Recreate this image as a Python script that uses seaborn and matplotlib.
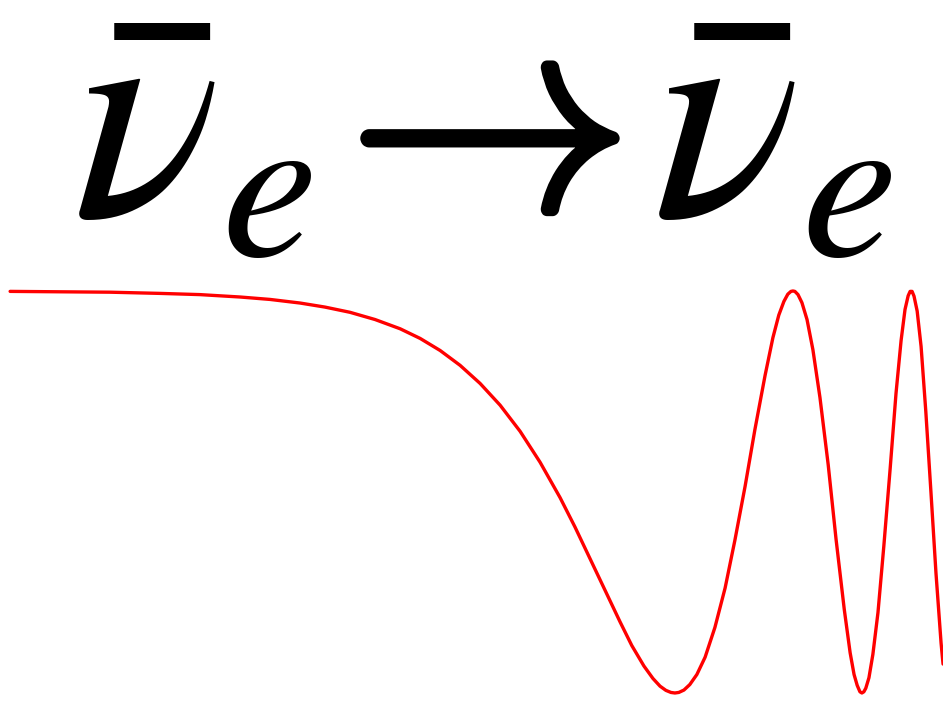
import matplotlib
matplotlib.use("Agg")
import matplotlib.pyplot as plt
import matplotlib.patheffects as pe
import pandas as pd
import seaborn as sns

# Electron antineutrino survival probability versus log10(L/E [km/GeV])
log_L_over_E = [
    1.000, 1.127, 1.255, 1.383, 1.484, 1.587, 1.663, 1.740, 1.803, 1.867,
    1.931, 1.995, 2.046, 2.097, 2.148, 2.199, 2.250, 2.301, 2.352, 2.403,
    2.441, 2.479, 2.518, 2.556, 2.586, 2.617, 2.640, 2.658, 2.673, 2.686,
    2.696, 2.706, 2.719, 2.734, 2.752, 2.773, 2.798, 2.824, 2.849, 2.875,
    2.900, 2.926, 2.946, 2.961, 2.974, 2.984, 2.992, 2.997, 3.002, 3.010,
    3.020, 3.033, 3.048, 3.066, 3.087, 3.107, 3.128, 3.143, 3.153, 3.161,
    3.168, 3.173, 3.178, 3.183, 3.191, 3.201, 3.214, 3.229, 3.245, 3.260,
    3.273, 3.283, 3.291, 3.296, 3.301, 3.306, 3.314, 3.324, 3.336, 3.349,
    3.362, 3.375, 3.380,
]
survival_prob = [
    0.999, 0.998, 0.997, 0.994, 0.991, 0.985, 0.979, 0.970, 0.960, 0.947,
    0.929, 0.906, 0.882, 0.852, 0.815, 0.770, 0.716, 0.651, 0.574, 0.486,
    0.413, 0.335, 0.255, 0.177, 0.118, 0.067, 0.036, 0.017, 0.0065, 0.0013,
    0.000, 0.0014, 0.0073, 0.021, 0.046, 0.089, 0.163, 0.261, 0.380, 0.514,
    0.655, 0.790, 0.884, 0.940, 0.974, 0.992, 0.999, 1.000, 0.999, 0.991,
    0.971, 0.929, 0.854, 0.735, 0.568, 0.383, 0.208, 0.100, 0.046, 0.019,
    0.003, 0.000, 0.003, 0.012, 0.038, 0.096, 0.200, 0.366, 0.557, 0.745,
    0.877, 0.954, 0.988, 0.999, 0.999, 0.987, 0.950, 0.862, 0.701, 0.502,
    0.298, 0.124, 0.072,
]
channel_label = r"$\bar{\nu}_e$"
arrow_label = r"$\rightarrow$"

sns.set_theme(style="white")
plt.rcParams["mathtext.fontset"] = "stix"

df = pd.DataFrame({"logLE": log_L_over_E, "P": survival_prob})

fig = plt.figure(figsize=(9.43, 7.08), dpi=100, facecolor="white")
ax = fig.add_axes([0.0, 0.0212, 1.0, 0.5678])
sns.lineplot(data=df, x="logLE", y="P", ax=ax, color="#ff0000",
             linewidth=2.4, sort=False, clip_on=False)
ax.set_xlim(0.9742, 3.3799)
ax.set_ylim(0.0, 1.0)
ax.axis("off")

# reaction label: nu-bar_e -> nu-bar_e
thick = [pe.withStroke(linewidth=5, foreground="black")]
fs = 222
fig.text(0.076, 0.695, channel_label, fontsize=fs, ha="left", va="baseline",
         color="black", family="STIXGeneral")
fig.text(0.4857, 0.7006, arrow_label, fontsize=205, ha="center",
         va="baseline", color="black", family="STIXGeneral",
         math_fontfamily="cm", path_effects=thick)
fig.text(0.691, 0.695, channel_label, fontsize=fs, ha="left", va="baseline",
         color="black", family="STIXGeneral")

fig.savefig("out.png", dpi=100, facecolor="white")
